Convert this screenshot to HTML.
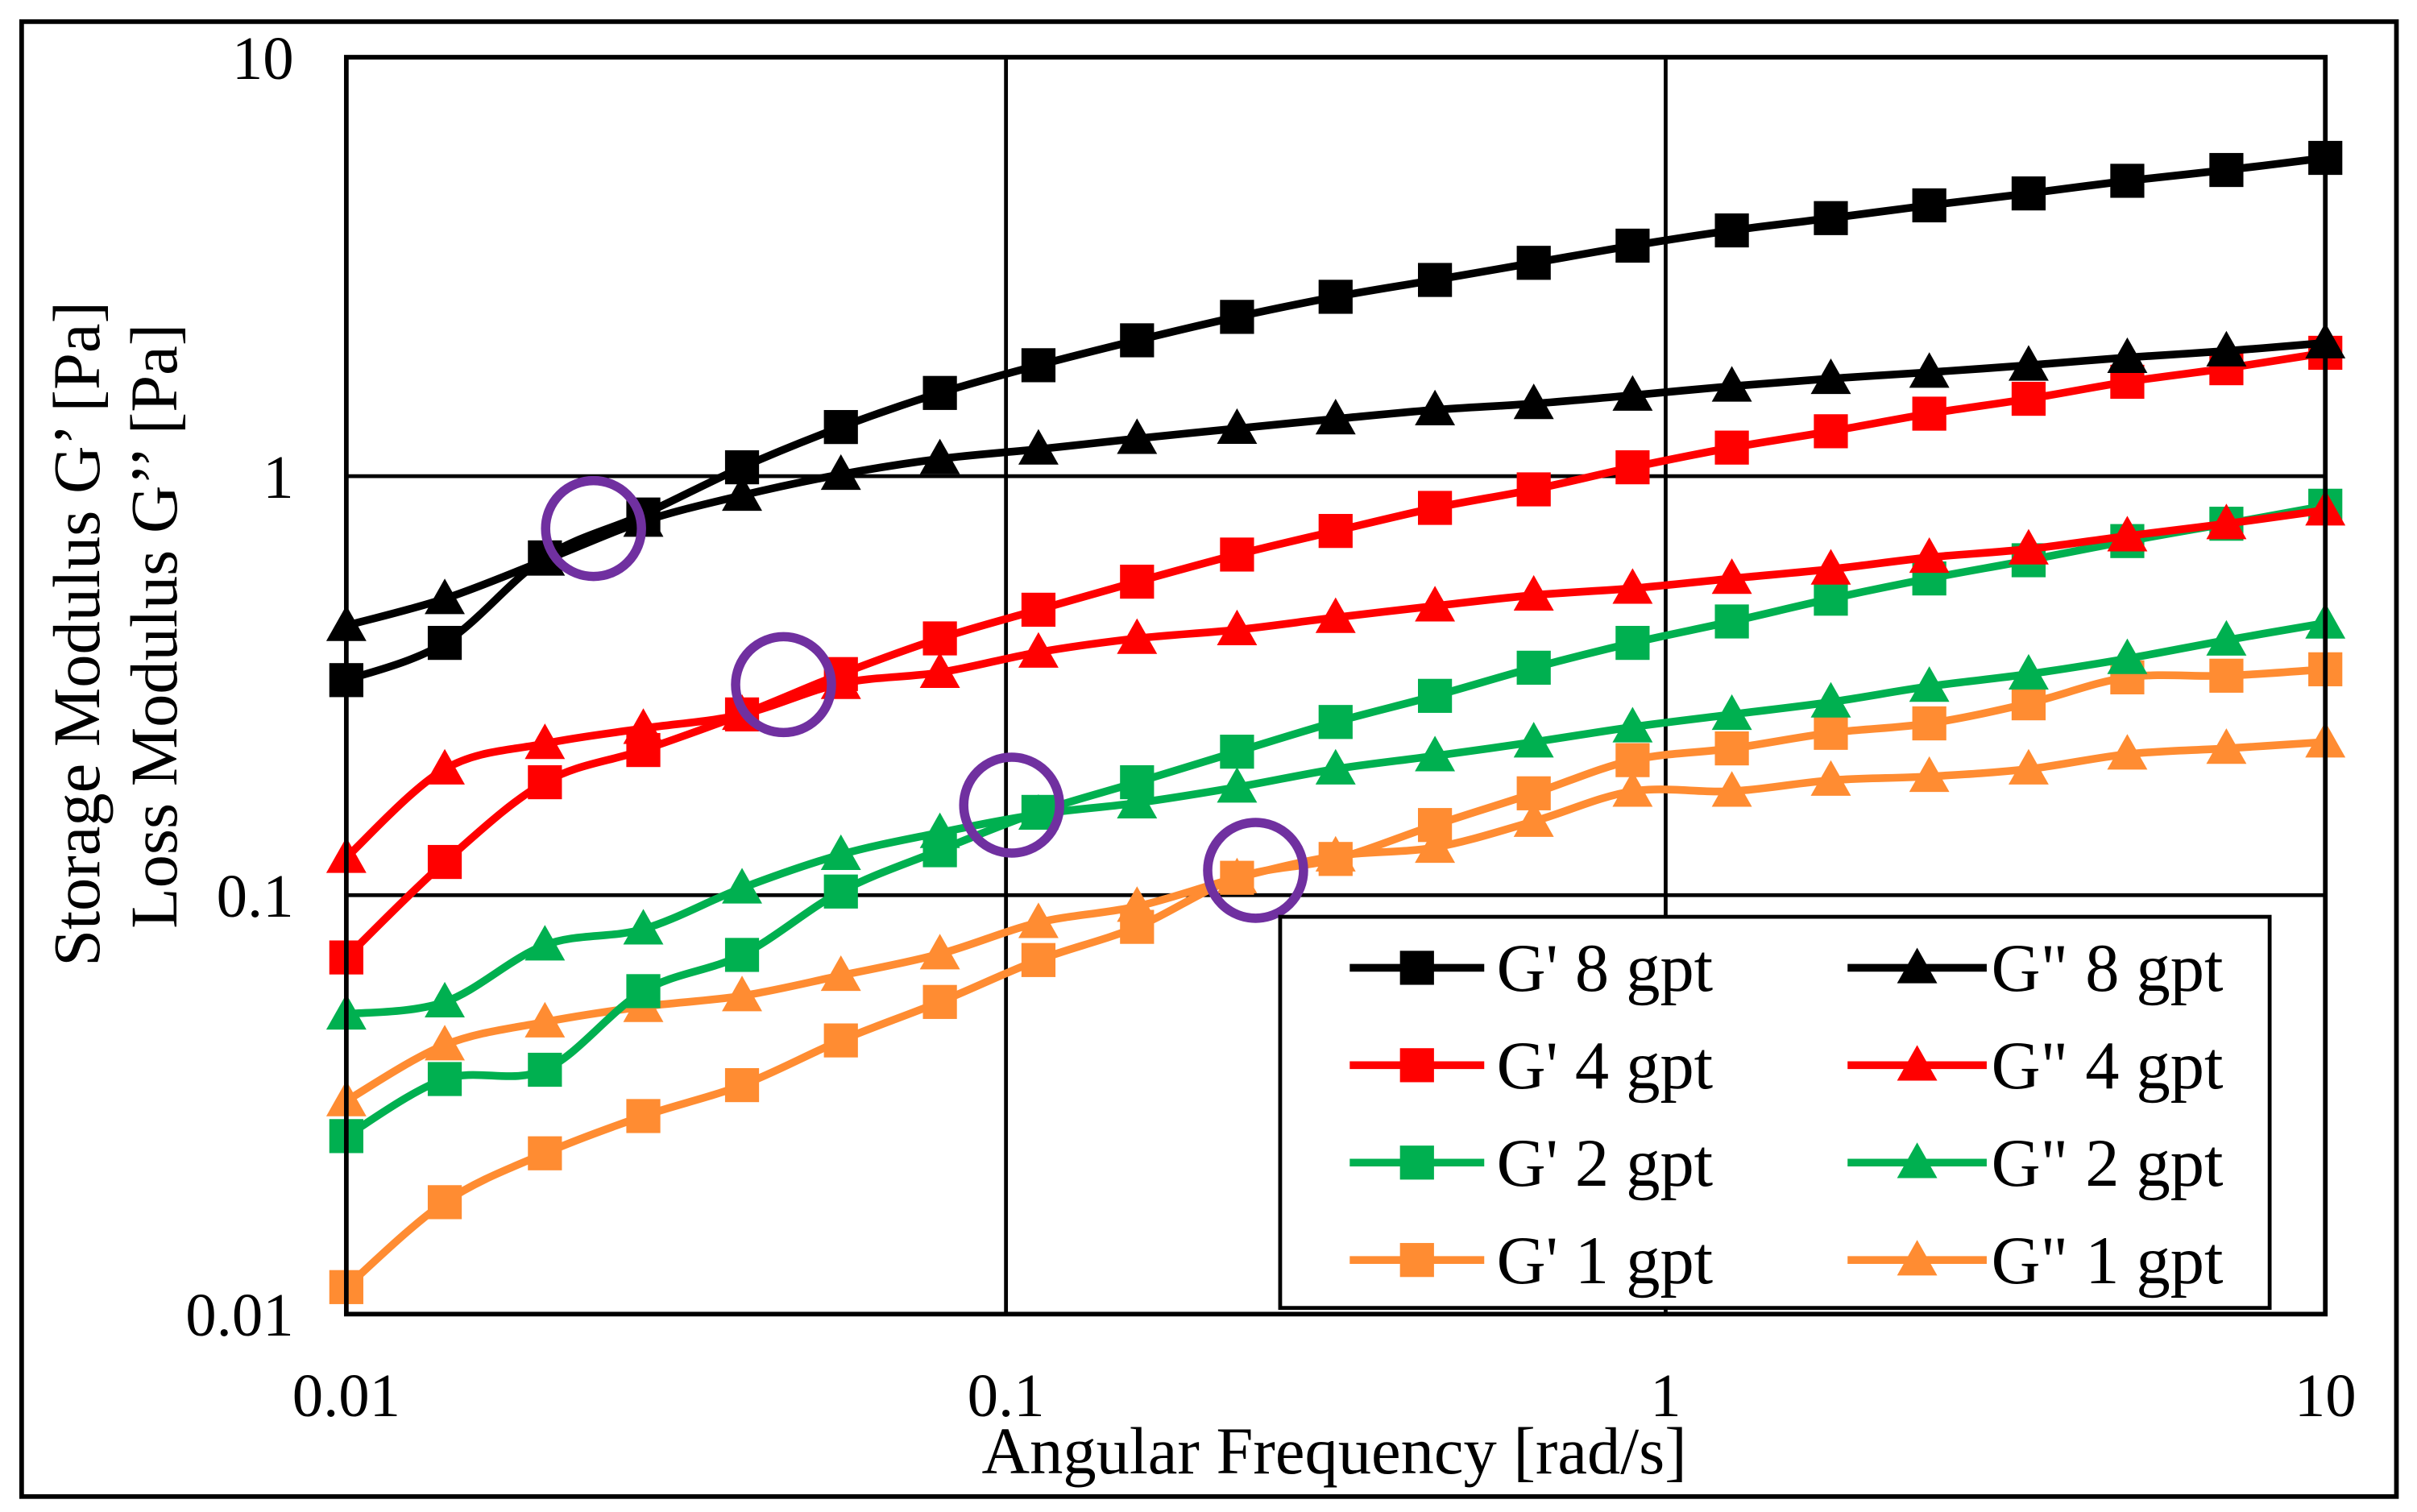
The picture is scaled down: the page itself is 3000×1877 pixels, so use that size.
<!DOCTYPE html>
<html><head><meta charset="utf-8"><style>
html,body{margin:0;padding:0;background:#fff}
svg{display:block}
text{font-family:"Liberation Serif",serif;fill:#000}
</style></head><body>
<svg id="chart" width="3000" height="1877" viewBox="0 0 1563.3 978" preserveAspectRatio="none" xmlns="http://www.w3.org/2000/svg">
<rect x="14" y="14" width="1536" height="954" fill="#fff" stroke="#000" stroke-width="3"/>
<g id="grid"></g>
<g id="series"></g>
<g id="circles"></g>
<g id="axes"></g>
<g id="legend"></g>
<text x="863" y="953" font-size="43" text-anchor="middle">Angular Frequency [rad/s]</text>
<text transform="translate(64,410) rotate(-90)" font-size="43" text-anchor="middle">Storage Modulus G’ [Pa]</text>
<text transform="translate(114,405) rotate(-90)" font-size="43" text-anchor="middle">Loss Modulus G’’ [Pa]</text>
</svg>
<script>
const freqs=[0.01,0.0141,0.02,0.0282,0.0398,0.0562,0.0794,0.112,0.158,0.224,0.316,0.447,0.631,0.891,1.26,1.78,2.51,3.55,5.01,7.08,10];
const gp8=[0.326,0.40,0.64,0.81,1.05,1.31,1.58,1.84,2.11,2.40,2.68,2.94,3.23,3.55,3.86,4.13,4.43,4.73,5.07,5.38,5.75];
const gpp8=[0.44,0.51,0.63,0.78,0.90,1.01,1.10,1.16,1.23,1.30,1.37,1.44,1.49,1.56,1.64,1.71,1.77,1.84,1.92,1.99,2.08];
const gp4=[0.071,0.12,0.186,0.222,0.27,0.337,0.41,0.48,0.56,0.65,0.74,0.84,0.93,1.05,1.17,1.28,1.41,1.53,1.68,1.81,1.97];
const gpp4=[0.123,0.20,0.23,0.25,0.27,0.32,0.34,0.38,0.41,0.43,0.46,0.49,0.52,0.54,0.57,0.60,0.64,0.67,0.72,0.77,0.83];
const gp2=[0.0266,0.0364,0.0383,0.059,0.072,0.102,0.128,0.158,0.186,0.22,0.259,0.299,0.349,0.40,0.45,0.51,0.57,0.63,0.70,0.77,0.85];
const gpp2=[0.052,0.0556,0.076,0.083,0.104,0.125,0.141,0.156,0.166,0.181,0.20,0.215,0.232,0.252,0.27,0.289,0.315,0.337,0.367,0.406,0.446];
const gp1=[0.0116,0.0185,0.0242,0.0297,0.0352,0.045,0.0556,0.070,0.084,0.110,0.122,0.147,0.175,0.21,0.224,0.244,0.257,0.287,0.331,0.334,0.346];
const gpp1=[0.0323,0.0439,0.0498,0.0542,0.0575,0.0643,0.0724,0.086,0.094,0.11,0.124,0.130,0.150,0.177,0.177,0.188,0.192,0.20,0.217,0.224,0.232];
const crossX=[0.0237,0.046,0.102,0.239];
const crossY=[0.75,0.318,0.164,0.1146];
const xTicks=[0.01,0.1,1,10];
const xTickLabels=["0.01","0.1","1","10"];
const yTicks=[0.01,0.1,1,10];
const yTickLabels=["0.01","0.1","1","10"];

const X0=224,X1=1504,Y0=850,Y1=37;
function xs(v){return X0+(Math.log10(v)+2)/3*(X1-X0);}
function ys(v){return Y0-(Math.log10(v)+2)/3*(Y0-Y1);}
const NS="http://www.w3.org/2000/svg";
function mk(tag,parent,attrs){const e=document.createElementNS(NS,tag);for(const k in attrs)e.setAttribute(k,attrs[k]);parent.appendChild(e);return e;}
const grid=document.getElementById('grid'),axes=document.getElementById('axes'),ser=document.getElementById('series'),circ=document.getElementById('circles'),leg=document.getElementById('legend');

xTicks.forEach((t,i)=>{
  const l=mk('line',grid,{x1:xs(t),x2:xs(t),y1:Y1,y2:Y0,stroke:'#000','stroke-width':2.5});
  
  
  const tx=mk('text',axes,{x:xs(t),y:916,'font-size':40,'text-anchor':'middle'});
  tx.textContent=xTickLabels[i];
  
  
});
yTicks.forEach((t,i)=>{
  const l=mk('line',grid,{x1:X0,x2:X1,y1:ys(t),y2:ys(t),stroke:'#000','stroke-width':2.5});
  
  
  const tx=mk('text',axes,{x:190,y:ys(t)+14,'font-size':40,'text-anchor':'end'});
  tx.textContent=yTickLabels[i];
  
  
});
const frame=mk('rect',axes,{x:X0,y:Y1,width:X1-X0,height:Y0-Y1,fill:'none',stroke:'#000','stroke-width':3});



function smooth(pts){
  let d='M'+pts[0][0]+','+pts[0][1];
  for(let i=0;i<pts.length-1;i++){
    const p0=pts[Math.max(i-1,0)],p1=pts[i],p2=pts[i+1],p3=pts[Math.min(i+2,pts.length-1)];
    const t=0.5/3;
    d+=' C'+(p1[0]+(p2[0]-p0[0])*t)+','+(p1[1]+(p2[1]-p0[1])*t)+' '+(p2[0]-(p3[0]-p1[0])*t)+','+(p2[1]-(p3[1]-p1[1])*t)+' '+p2[0]+','+p2[1];
  }
  return d;
}
function marker(g,x,y,shape,color,name){
  let m;
  if(shape==='sq') m=mk('rect',g,{x:x-11,y:y-11,width:22,height:22,fill:color});
  else m=mk('polygon',g,{points:(x)+','+(y-13)+' '+(x+13)+','+(y+10)+' '+(x-13)+','+(y+10),fill:color});
  
  
}
const C={k:'#000000',r:'#FF0000',g:'#00B050',o:'#FF8C32'};
const series=[
 [gpp1,'tri',C.o,'g2-1gpt'],[gp1,'sq',C.o,'g1-1gpt'],
 [gpp2,'tri',C.g,'g2-2gpt'],[gp2,'sq',C.g,'g1-2gpt'],
 [gpp4,'tri',C.r,'g2-4gpt'],[gp4,'sq',C.r,'g1-4gpt'],
 [gpp8,'tri',C.k,'g2-8gpt'],[gp8,'sq',C.k,'g1-8gpt']];
series.forEach(s=>{
  const g=mk('g',ser,{});
  
  
  const pts=freqs.map((f,i)=>[xs(f),ys(s[0][i])]);
  mk('path',g,{d:smooth(pts),fill:'none',stroke:s[2],'stroke-width':5});
  pts.forEach(p=>marker(g,p[0],p[1],s[1],s[2],'point-'+s[3]));
});
crossX.forEach((cx,i)=>{
  const c=mk('circle',circ,{cx:xs(cx),cy:ys(crossY[i]),r:31,fill:'none',stroke:'#7030A0','stroke-width':6});
  
  
});
const lb=mk('rect',leg,{x:828,y:593,width:640,height:253,fill:'#fff',stroke:'#000','stroke-width':2.5});


const legRows=[["G' 8 gpt",'G" 8 gpt',C.k],["G' 4 gpt",'G" 4 gpt',C.r],["G' 2 gpt",'G" 2 gpt',C.g],["G' 1 gpt",'G" 1 gpt',C.o]];
legRows.forEach((r,i)=>{
  const y=626+i*63;
  [[873,960,'sq',r[0],968],[1195,1285,'tri',r[1],1288]].forEach(c=>{
    const g=mk('g',leg,{});
    
    
    mk('line',g,{x1:c[0],x2:c[1],y1:y,y2:y,stroke:r[2],'stroke-width':5});
    marker(g,(c[0]+c[1])/2,y,c[2],r[2],'legend-marker');
    const t=mk('text',g,{x:c[4],y:y+15,'font-size':44});
    t.textContent=c[3];
  });
});
</script>
</body></html>
